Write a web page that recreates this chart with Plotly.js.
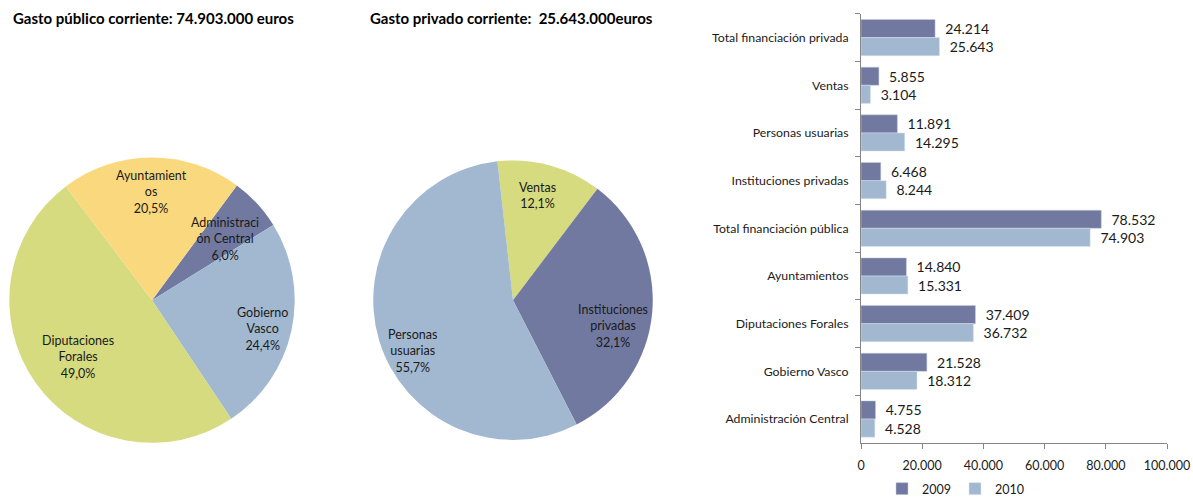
<!DOCTYPE html>
<html><head><meta charset="utf-8">
<script src="https://cdn.plot.ly/plotly-3.0.1.min.js"></script>
<style>html,body{margin:0;padding:0;background:#fff}#chart{width:1193px;height:504px}</style>
</head><body><div id="chart"></div>
<script>
// Pie 1: gasto público corriente 2010
const pubLabels = ['Administración Central', 'Gobierno Vasco', 'Diputaciones Forales', 'Ayuntamientos'];
const pubText = ['Administraci<br>ón Central', 'Gobierno<br>Vasco', 'Diputaciones<br>Forales', 'Ayuntamient<br>os'];
const pubValues = [4528, 18312, 36732, 15331];
const pubColors = ['#7179a1', '#a1b8d0', '#d5db7e', '#fad87d'];

// Pie 2: gasto privado corriente 2010
const privLabels = ['Ventas', 'Instituciones privadas', 'Personas usuarias'];
const privText = ['Ventas', 'Instituciones<br>privadas', 'Personas<br>usuarias'];
const privValues = [3104, 8244, 14295];
const privColors = ['#d5db7e', '#7179a1', '#a1b8d0'];

// Bar chart
const barCategories = ['Total financiación privada', 'Ventas', 'Personas usuarias', 'Instituciones privadas',
  'Total financiación pública', 'Ayuntamientos', 'Diputaciones Forales', 'Gobierno Vasco', 'Administración Central'];
const values2009 = [24214, 5855, 11891, 6468, 78532, 14840, 37409, 21528, 4755];
const values2010 = [25643, 3104, 14295, 8244, 74903, 15331, 36732, 18312, 4528];
const seriesNames = ['2009', '2010'];
const seriesColors = ['#7179a1', '#a1b8d0'];

const titles = ['Gasto público corriente: 74.903.000 euros', 'Gasto privado corriente:  25.643.000euros'];

const W = 1193, H = 504;
const FAM = 'Lato, "Open Sans", sans-serif';
const LABEL_DY = 5; // vertical nudge of pie labels, px

// pie placement (pixels) and label styling
const pies = [
  {labels: pubLabels, text: pubText, values: pubValues, colors: pubColors, rotation: 36.5,
   box: [7, 160, 297, 450], labelR: [0.68, 0.78, 0.63, 0.79], labelShift: [0, 0, 0, 0]},
  {labels: privLabels, text: privText, values: privValues, colors: privColors, rotation: -6.4,
   box: [371, 163, 655, 447], labelR: [0.80, 0.72, 0.78], labelShift: [-3, 7, -8]}
];

const traces = [];
const annotations = [];

pies.forEach(p => {
  traces.push({
    type: 'pie', labels: p.labels, values: p.values,
    sort: false, direction: 'clockwise', rotation: p.rotation,
    marker: {colors: p.colors, line: {width: 0}},
    textinfo: 'none',
    domain: {x: [p.box[0] / W, p.box[2] / W], y: [1 - p.box[3] / H, 1 - p.box[1] / H]},
    showlegend: false, hoverinfo: 'label+value+percent'
  });
  const total = p.values.reduce((a, b) => a + b, 0);
  const cx = (p.box[0] + p.box[2]) / 2, cy = (p.box[1] + p.box[3]) / 2;
  const R = Math.min(p.box[2] - p.box[0], p.box[3] - p.box[1]) / 2;
  let cum = 0;
  p.values.forEach((v, i) => {
    const mid = (p.rotation + 360 * (cum + v / 2) / total + p.labelShift[i]) * Math.PI / 180;
    cum += v;
    const px = cx + p.labelR[i] * R * Math.sin(mid);
    const py = cy - p.labelR[i] * R * Math.cos(mid) + LABEL_DY;
    const pct = (v / total * 100).toFixed(1).replace('.', ',') + '%';
    annotations.push({
      text: p.text[i] + '<br>' + pct, xref: 'paper', yref: 'paper',
      x: px / W, y: 1 - py / H, xanchor: 'center', yanchor: 'middle', align: 'center',
      showarrow: false, font: {family: FAM, size: 12.5, color: '#1a1a1a'}
    });
  });
});

traces.push(
  {
    type: 'bar', orientation: 'h', name: seriesNames[0],
    y: barCategories, x: values2009,
    marker: {color: seriesColors[0], line: {color: '#c8cfe0', width: 0.5}},
    texttemplate: '\u00a0\u00a0%{x:,}', textposition: 'outside', cliponaxis: false,
    outsidetextfont: {family: FAM, size: 14, color: '#1a1a1a'}
  },
  {
    type: 'bar', orientation: 'h', name: seriesNames[1],
    y: barCategories, x: values2010,
    marker: {color: seriesColors[1], line: {color: '#dde6ef', width: 0.5}},
    texttemplate: '\u00a0\u00a0%{x:,}', textposition: 'outside', cliponaxis: false,
    outsidetextfont: {family: FAM, size: 14, color: '#1a1a1a'}
  }
);

annotations.push(
  {text: '<b>' + titles[0] + '</b>', xref: 'paper', yref: 'paper',
   x: 11 / W, y: 1 - 18 / H, xanchor: 'left', yanchor: 'middle', showarrow: false,
   font: {family: FAM, size: 15, color: '#000'}},
  {text: '<b>' + titles[1] + '</b>', xref: 'paper', yref: 'paper',
   x: 368 / W, y: 1 - 18 / H, xanchor: 'left', yanchor: 'middle', showarrow: false,
   font: {family: FAM, size: 15, color: '#000'}}
);

const layout = {
  width: W, height: H,
  margin: {l: 0, r: 0, t: 0, b: 0},
  paper_bgcolor: '#fff', plot_bgcolor: '#fff',
  font: {family: FAM, size: 12, color: '#000'},
  separators: ',.',
  barmode: 'group', bargap: 0.24, bargroupgap: 0,
  xaxis: {
    domain: [861 / W, 1167 / W], range: [0, 100000], dtick: 20000,
    tickformat: ',d', showgrid: false, zeroline: false,
    showline: true, linecolor: '#868686', linewidth: 1,
    ticks: 'outside', ticklen: 5, tickcolor: '#868686', ticklabelstandoff: 6,
    tickfont: {family: FAM, size: 12.5, color: '#1a1a1a'}, fixedrange: true
  },
  yaxis: {
    domain: [1 - 450 / H, 1 - 14 / H], autorange: 'reversed', type: 'category',
    showgrid: false, zeroline: false, showline: true, linecolor: '#868686', linewidth: 1,
    ticks: 'outside', ticklen: 5, tickcolor: '#868686', tickson: 'boundaries',
    ticklabelstandoff: 9,
    tickfont: {family: FAM, size: 12.3, color: '#1a1a1a'}, fixedrange: true
  },
  legend: {
    orientation: 'h', x: 955 / W, xanchor: 'center', y: 1 - 497 / H, yanchor: 'middle',
    font: {family: FAM, size: 12.5, color: '#1a1a1a'}, traceorder: 'normal',
    itemwidth: 30, entrywidth: 28, entrywidthmode: 'pixels'
  },
  annotations: annotations
};

Plotly.newPlot('chart', traces, layout, {displayModeBar: false, staticPlot: true});
</script>
</body></html>
